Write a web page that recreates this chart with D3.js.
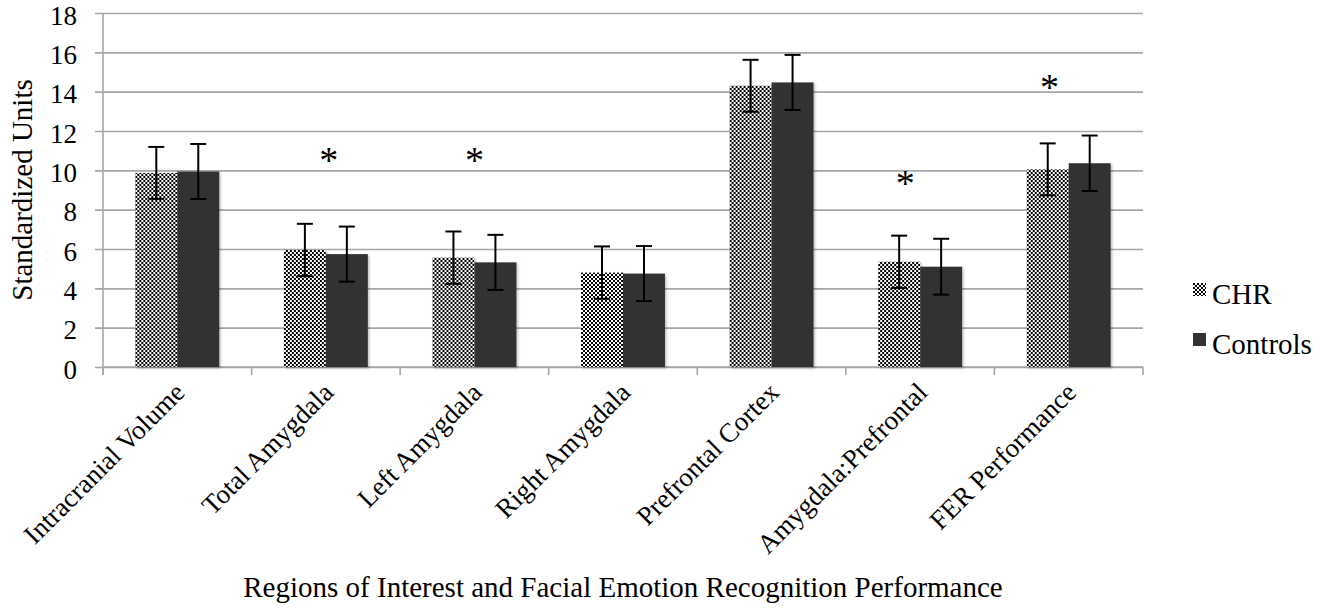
<!DOCTYPE html>
<html>
<head>
<meta charset="utf-8">
<script src="https://cdn.jsdelivr.net/npm/d3@7"></script>
<style>
  html, body { margin: 0; padding: 0; background: #fff; }
  svg text { font-family: "Liberation Serif", "Times New Roman", serif !important; fill: #000; }
</style>
</head>
<body>
<svg id="chart" width="1330" height="611" font-family="Liberation Serif, serif"></svg>
<script>
// ---- data ----
const categories = ["Intracranial Volume", "Total Amygdala", "Left Amygdala", "Right Amygdala",
                    "Prefrontal Cortex", "Amygdala:Prefrontal", "FER Performance"];
const seriesNames = ["CHR", "Controls"];
const chrValues = [9.87, 5.95, 5.56, 4.80, 14.30, 5.35, 10.05];
const chrErrors = [1.32, 1.33, 1.33, 1.33, 1.32, 1.33, 1.32];
const controlValues = [9.94, 5.74, 5.32, 4.75, 14.47, 5.10, 10.36];
const controlErrors = [1.40, 1.40, 1.40, 1.40, 1.40, 1.42, 1.41];
const yTicks = [0, 2, 4, 6, 8, 10, 12, 14, 16, 18];
// significance markers: category and the height (in chart units) of the asterisk
const sigCategories = ["Total Amygdala", "Left Amygdala", "Amygdala:Prefrontal", "FER Performance"];
const sigLevels = [10.9, 10.9, 9.7, 14.6];
const sigShift = [0.02, 0.0, -0.1, -0.13]; // fraction of band step
const yTitle = "Standardized Units";
const xTitle = "Regions of Interest and Facial Emotion Recognition Performance";

// ---- layout ----
const svg = d3.select("#chart");
const mLeft = 103, mRight = 1143, mTop = 13, mBottom = 367;
const serif = '"Liberation Serif", "Times New Roman", serif';

const x = d3.scaleBand().domain(categories).range([mLeft, mRight]).paddingInner(0.435).paddingOuter(0.2175);
const xs = d3.scaleBand().domain(seriesNames).range([0, x.bandwidth()]);
const y = d3.scaleLinear().domain([0, 18]).range([mBottom, mTop]);

const defs = svg.append("defs");
const pat = defs.append("pattern").attr("id", "checker").attr("patternUnits", "userSpaceOnUse")
  .attr("width", 4).attr("height", 4);
pat.append("rect").attr("width", 4).attr("height", 4).attr("fill", "#fff");
pat.append("rect").attr("width", 2).attr("height", 2).attr("fill", "#000");
pat.append("rect").attr("x", 2).attr("y", 2).attr("width", 2).attr("height", 2).attr("fill", "#000");

const shadow = defs.append("filter").attr("id", "shadow").attr("x", "-10%").attr("y", "-10%").attr("width", "130%").attr("height", "130%");
shadow.append("feDropShadow").attr("dx", 1.5).attr("dy", 1.5).attr("stdDeviation", 1.2).attr("flood-color", "#000").attr("flood-opacity", 0.25);

const gridColor = "#a6a6a6";

// gridlines + y axis
const yAxis = d3.axisLeft(y).tickValues(yTicks).tickSize(-(mRight - mLeft)).tickSizeOuter(0).tickPadding(16);
const gy = svg.append("g").attr("transform", `translate(${mLeft},0)`).call(yAxis)
  .attr("font-family", null).attr("font-size", null);
gy.select(".domain").remove();
gy.selectAll(".tick line").attr("stroke", gridColor).attr("stroke-width", 1.6).attr("x1", -8);
gy.selectAll(".tick text").attr("x", -26).attr("dy", "0.41em").style("font-size", "27px").style("font-family", serif).attr("fill", "#000");
svg.append("line").attr("x1", mLeft).attr("x2", mLeft).attr("y1", mTop).attr("y2", mBottom + 8)
  .attr("stroke", gridColor).attr("stroke-width", 1.6);

// x axis ticks at category boundaries
const boundaries = categories.map(c => x(c) - x.step() * x.paddingInner() / 2).concat([mRight]);
svg.append("line").attr("x1", mLeft).attr("x2", mRight).attr("y1", mBottom).attr("y2", mBottom)
  .attr("stroke", gridColor).attr("stroke-width", 1.6);
svg.selectAll(".xtick").data(boundaries).join("line").attr("class", "xtick")
  .attr("x1", d => d).attr("x2", d => d).attr("y1", mBottom).attr("y2", mBottom + 8)
  .attr("stroke", gridColor).attr("stroke-width", 1.6);

// bars
const rows = categories.map((c, i) => ({ c, s: [
  { name: "CHR", v: chrValues[i], e: chrErrors[i] },
  { name: "Controls", v: controlValues[i], e: controlErrors[i] }] }));

const groups = svg.selectAll(".grp").data(rows).join("g").attr("class", "grp")
  .attr("transform", d => `translate(${x(d.c)},0)`);
groups.selectAll("rect").data(d => d.s).join("rect")
  .attr("x", d => xs(d.name)).attr("width", xs.bandwidth())
  .attr("y", d => y(d.v)).attr("height", d => y(0) - y(d.v))
  .attr("fill", d => d.name === "CHR" ? "url(#checker)" : "#333333")
  .attr("filter", "url(#shadow)");

// error bars
const capW = 8;
groups.selectAll(".err").data(d => d.s).join("g").attr("class", "err").each(function(d) {
  const g = d3.select(this);
  const cx = xs(d.name) + xs.bandwidth() / 2;
  g.append("line").attr("x1", cx).attr("x2", cx).attr("y1", y(d.v + d.e)).attr("y2", y(d.v - d.e));
  g.append("line").attr("x1", cx - capW).attr("x2", cx + capW).attr("y1", y(d.v + d.e)).attr("y2", y(d.v + d.e));
  g.append("line").attr("x1", cx - capW).attr("x2", cx + capW).attr("y1", y(d.v - d.e)).attr("y2", y(d.v - d.e));
  g.selectAll("line").attr("stroke", "#000").attr("stroke-width", 2);
});

// asterisks
svg.selectAll(".sig").data(sigCategories).join("text").attr("class", "sig")
  .attr("x", (c, i) => x(c) + x.bandwidth() / 2 + sigShift[i] * x.step())
  .attr("y", (c, i) => y(sigLevels[i]) + 20)
  .attr("text-anchor", "middle").style("font-size", "38px").style("font-family", serif).text("*");

// x category labels
svg.selectAll(".xlab").data(categories).join("text").attr("class", "xlab")
  .attr("transform", c => `translate(${x(c) + x.bandwidth() / 2 + 9},${mBottom + 27}) rotate(-45)`)
  .attr("text-anchor", "end").style("font-size", "27px").style("font-family", serif).text(c => c);

// axis titles
svg.append("text").attr("transform", `translate(32,${(mTop + mBottom) / 2}) rotate(-90)`)
  .attr("text-anchor", "middle").style("font-size", "29px").style("font-family", serif).text(yTitle);
svg.append("text").attr("x", (mLeft + mRight) / 2).attr("y", 597)
  .attr("text-anchor", "middle").style("font-size", "29px").style("font-family", serif).text(xTitle);

// legend
const leg = svg.append("g").attr("transform", "translate(1193,283)");
seriesNames.forEach((n, i) => {
  const g = leg.append("g").attr("transform", `translate(0,${i * 50})`);
  g.append("rect").attr("width", 13).attr("height", 13)
    .attr("fill", n === "CHR" ? "url(#checker)" : "#333333");
  g.append("text").attr("x", 19).attr("y", 21).style("font-size", "29px").style("font-family", serif).text(n);
});
</script>
</body>
</html>
